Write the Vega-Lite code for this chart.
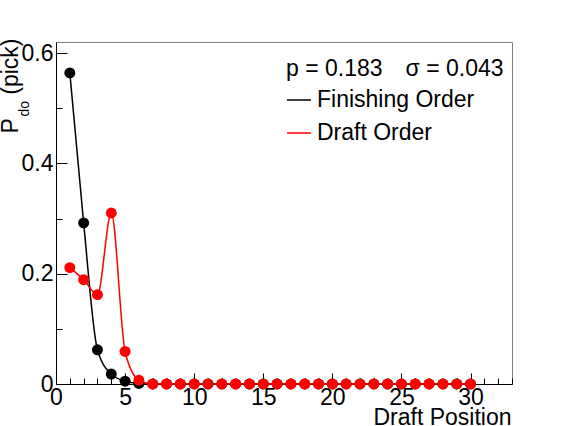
{
  "$schema": "https://vega.github.io/schema/vega-lite/v6.json",
  "width": 456,
  "height": 342,
  "autosize": {"type": "none"},
  "padding": {"left": 56, "top": 42, "right": 55, "bottom": 42},
  "background": "white",
  "data": {
    "values": [
      {"pos": 1, "series": "Finishing Order", "p": 0.564},
      {"pos": 2, "series": "Finishing Order", "p": 0.292},
      {"pos": 3, "series": "Finishing Order", "p": 0.062},
      {"pos": 4, "series": "Finishing Order", "p": 0.018},
      {"pos": 5, "series": "Finishing Order", "p": 0.005},
      {"pos": 6, "series": "Finishing Order", "p": 0.001},
      {"pos": 7, "series": "Finishing Order", "p": 0},
      {"pos": 8, "series": "Finishing Order", "p": 0},
      {"pos": 9, "series": "Finishing Order", "p": 0},
      {"pos": 10, "series": "Finishing Order", "p": 0},
      {"pos": 11, "series": "Finishing Order", "p": 0},
      {"pos": 12, "series": "Finishing Order", "p": 0},
      {"pos": 13, "series": "Finishing Order", "p": 0},
      {"pos": 14, "series": "Finishing Order", "p": 0},
      {"pos": 15, "series": "Finishing Order", "p": 0},
      {"pos": 16, "series": "Finishing Order", "p": 0},
      {"pos": 17, "series": "Finishing Order", "p": 0},
      {"pos": 18, "series": "Finishing Order", "p": 0},
      {"pos": 19, "series": "Finishing Order", "p": 0},
      {"pos": 20, "series": "Finishing Order", "p": 0},
      {"pos": 21, "series": "Finishing Order", "p": 0},
      {"pos": 22, "series": "Finishing Order", "p": 0},
      {"pos": 23, "series": "Finishing Order", "p": 0},
      {"pos": 24, "series": "Finishing Order", "p": 0},
      {"pos": 25, "series": "Finishing Order", "p": 0},
      {"pos": 26, "series": "Finishing Order", "p": 0},
      {"pos": 27, "series": "Finishing Order", "p": 0},
      {"pos": 28, "series": "Finishing Order", "p": 0},
      {"pos": 29, "series": "Finishing Order", "p": 0},
      {"pos": 30, "series": "Finishing Order", "p": 0},
      {"pos": 1, "series": "Draft Order", "p": 0.211},
      {"pos": 2, "series": "Draft Order", "p": 0.189},
      {"pos": 3, "series": "Draft Order", "p": 0.162},
      {"pos": 4, "series": "Draft Order", "p": 0.310},
      {"pos": 5, "series": "Draft Order", "p": 0.059},
      {"pos": 6, "series": "Draft Order", "p": 0.007},
      {"pos": 7, "series": "Draft Order", "p": 0},
      {"pos": 8, "series": "Draft Order", "p": 0},
      {"pos": 9, "series": "Draft Order", "p": 0},
      {"pos": 10, "series": "Draft Order", "p": 0},
      {"pos": 11, "series": "Draft Order", "p": 0},
      {"pos": 12, "series": "Draft Order", "p": 0},
      {"pos": 13, "series": "Draft Order", "p": 0},
      {"pos": 14, "series": "Draft Order", "p": 0},
      {"pos": 15, "series": "Draft Order", "p": 0},
      {"pos": 16, "series": "Draft Order", "p": 0},
      {"pos": 17, "series": "Draft Order", "p": 0},
      {"pos": 18, "series": "Draft Order", "p": 0},
      {"pos": 19, "series": "Draft Order", "p": 0},
      {"pos": 20, "series": "Draft Order", "p": 0},
      {"pos": 21, "series": "Draft Order", "p": 0},
      {"pos": 22, "series": "Draft Order", "p": 0},
      {"pos": 23, "series": "Draft Order", "p": 0},
      {"pos": 24, "series": "Draft Order", "p": 0},
      {"pos": 25, "series": "Draft Order", "p": 0},
      {"pos": 26, "series": "Draft Order", "p": 0},
      {"pos": 27, "series": "Draft Order", "p": 0},
      {"pos": 28, "series": "Draft Order", "p": 0},
      {"pos": 29, "series": "Draft Order", "p": 0},
      {"pos": 30, "series": "Draft Order", "p": 0}
    ]
  },
  "layer": [
    {
      "mark": {
        "type": "line",
        "interpolate": "monotone",
        "strokeWidth": 1.5,
        "point": {"filled": true, "size": 120, "opacity": 1}
      },
      "encoding": {
        "x": {
          "field": "pos",
          "type": "quantitative",
          "scale": {"domain": [0, 33], "nice": false, "zero": false},
          "axis": {
            "orient": "bottom",
            "values": [0, 5, 10, 15, 20, 25, 30],
            "ticks": false,
            "tickSize": 0,
            "labelPadding": 2,
            "labelFlush": false,
            "labelOverlap": false,
            "title": "Draft Position",
            "titleX": 455,
            "titleY": 40,
            "titleAlign": "right",
            "titleAnchor": "end",
            "titleBaseline": "alphabetic"
          }
        },
        "y": {
          "field": "p",
          "type": "quantitative",
          "scale": {"domain": [0, 0.62], "nice": false},
          "axis": {
            "orient": "left",
            "values": [0, 0.2, 0.4, 0.6],
            "format": "~g",
            "ticks": false,
            "tickSize": 0,
            "labelPadding": 3,
            "labelFlush": false,
            "labelOverlap": false,
            "title": "(pick)",
            "titleAngle": 270,
            "titleX": -39,
            "titleY": -4,
            "titleAlign": "right",
            "titleBaseline": "alphabetic"
          }
        },
        "color": {
          "field": "series",
          "type": "nominal",
          "scale": {"domain": ["Finishing Order", "Draft Order"], "range": ["#000000", "#ff0000"]},
          "legend": {
            "title": "p = 0.183\u2003σ = 0.043",
            "orient": "none",
            "legendX": 230,
            "legendY": 16,
            "padding": 0,
            "symbolType": "stroke",
            "symbolSize": 576,
            "symbolStrokeWidth": 1.5,
            "labelOffset": 5,
            "rowPadding": 8,
            "titlePadding": 6,
            "labelFontSize": 23,
            "labelFont": "Liberation Sans",
            "labelColor": "black",
            "labelLimit": 300,
            "titleFontSize": 23,
            "titleFont": "Liberation Sans",
            "titleFontWeight": "normal",
            "titleColor": "black",
            "titleLimit": 400
          }
        }
      }
    },
    {
      "mark": {"type": "point", "opacity": 0},
      "encoding": {
        "x": {
          "field": "pos",
          "type": "quantitative",
          "scale": {"domain": [0, 33], "nice": false, "zero": false},
          "axis": {
            "orient": "bottom",
            "values": [0, 5, 10, 15, 20, 25, 30],
            "labels": false,
            "domain": false,
            "tickSize": -11,
            "title": null
          }
        },
        "y": {
          "field": "p",
          "type": "quantitative",
          "scale": {"domain": [0, 0.62], "nice": false},
          "axis": {
            "orient": "left",
            "values": [0, 0.2, 0.4, 0.6],
            "labels": false,
            "domain": false,
            "tickSize": -11,
            "title": "P",
            "titleAngle": 270,
            "titleX": -39,
            "titleY": 91,
            "titleAlign": "left",
            "titleBaseline": "alphabetic"
          }
        }
      }
    },
    {
      "mark": {"type": "point", "opacity": 0},
      "encoding": {
        "x": {
          "field": "pos",
          "type": "quantitative",
          "scale": {"domain": [0, 33], "nice": false, "zero": false},
          "axis": {
            "orient": "bottom",
            "values": [1, 2, 3, 4, 6, 7, 8, 9, 11, 12, 13, 14, 16, 17, 18, 19, 21, 22, 23, 24, 26, 27, 28, 29, 31, 32, 33],
            "labels": false,
            "domain": false,
            "tickSize": -6,
            "title": null
          }
        },
        "y": {
          "field": "p",
          "type": "quantitative",
          "scale": {"domain": [0, 0.62], "nice": false},
          "axis": {
            "orient": "left",
            "values": [0.1, 0.3, 0.5],
            "labels": false,
            "domain": false,
            "tickSize": -6,
            "title": "do",
            "titleFontSize": 14,
            "titleAngle": 270,
            "titleX": -28,
            "titleY": 74,
            "titleAlign": "left",
            "titleBaseline": "alphabetic"
          }
        }
      }
    }
  ],
  "resolve": {"axis": {"x": "independent", "y": "independent"}},
  "config": {
    "view": {"stroke": "#808080", "strokeWidth": 1},
    "axis": {
      "grid": false,
      "domainColor": "black",
      "domainWidth": 1,
      "tickColor": "black",
      "tickWidth": 1,
      "labelColor": "black",
      "labelFont": "Liberation Sans",
      "labelFontSize": 23,
      "titleColor": "black",
      "titleFont": "Liberation Sans",
      "titleFontSize": 23,
      "titleFontWeight": "normal",
      "titlePadding": 0
    }
  }
}
